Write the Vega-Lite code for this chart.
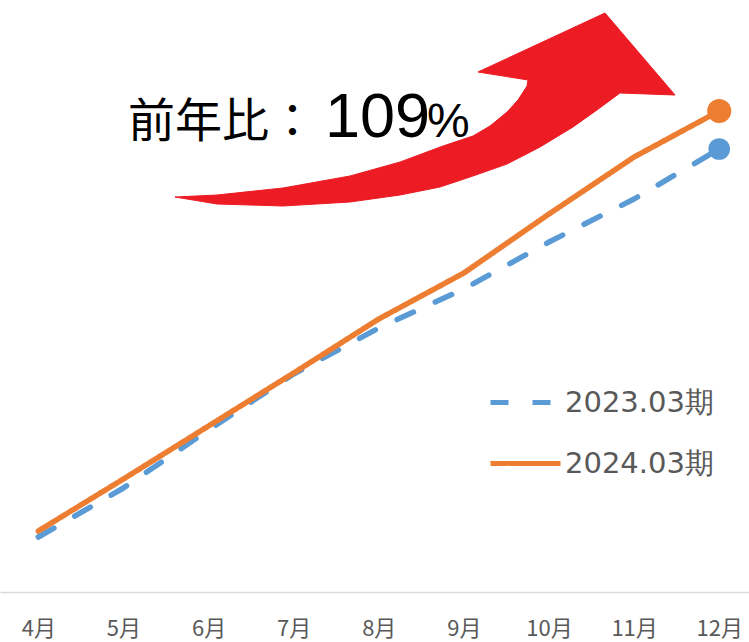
{
  "$schema": "https://vega.github.io/schema/vega-lite/v6.json",
  "width": 749,
  "height": 592,
  "autosize": {"type": "none"},
  "padding": {"left": 0, "top": 0, "right": 0, "bottom": 50},
  "background": "white",
  "config": {"view": {"stroke": null}, "font": "Noto Sans CJK JP"},
  "datasets": {
    "sales": [
      {"month": 4, "period": "2023.03期", "value": 55},
      {"month": 5, "period": "2023.03期", "value": 104},
      {"month": 6, "period": "2023.03期", "value": 162},
      {"month": 7, "period": "2023.03期", "value": 218},
      {"month": 8, "period": "2023.03期", "value": 264},
      {"month": 9, "period": "2023.03期", "value": 303},
      {"month": 10, "period": "2023.03期", "value": 350},
      {"month": 11, "period": "2023.03期", "value": 393},
      {"month": 12, "period": "2023.03期", "value": 443},
      {"month": 4, "period": "2024.03期", "value": 61},
      {"month": 5, "period": "2024.03期", "value": 113},
      {"month": 6, "period": "2024.03期", "value": 166},
      {"month": 7, "period": "2024.03期", "value": 219},
      {"month": 8, "period": "2024.03期", "value": 273},
      {"month": 9, "period": "2024.03期", "value": 319},
      {"month": 10, "period": "2024.03期", "value": 378},
      {"month": 11, "period": "2024.03期", "value": 435},
      {"month": 12, "period": "2024.03期", "value": 481}
    ],
    "arrow": [
      {"i": 0, "m": 5.606, "v": 395},
      {"i": 1, "m": 6.100, "v": 397},
      {"i": 2, "m": 6.875, "v": 404},
      {"i": 3, "m": 7.662, "v": 416},
      {"i": 4, "m": 8.250, "v": 430},
      {"i": 5, "m": 8.755, "v": 446},
      {"i": 6, "m": 9.107, "v": 456},
      {"i": 7, "m": 9.307, "v": 466},
      {"i": 8, "m": 9.507, "v": 480},
      {"i": 9, "m": 9.636, "v": 492},
      {"i": 10, "m": 9.742, "v": 506},
      {"i": 11, "m": 9.753, "v": 512},
      {"i": 12, "m": 9.166, "v": 520},
      {"i": 13, "m": 10.658, "v": 579},
      {"i": 14, "m": 11.481, "v": 497},
      {"i": 15, "m": 10.834, "v": 499},
      {"i": 16, "m": 10.564, "v": 482},
      {"i": 17, "m": 10.282, "v": 465},
      {"i": 18, "m": 9.895, "v": 445},
      {"i": 19, "m": 9.507, "v": 428},
      {"i": 20, "m": 9.107, "v": 416},
      {"i": 21, "m": 8.720, "v": 405},
      {"i": 22, "m": 8.250, "v": 397},
      {"i": 23, "m": 7.662, "v": 390},
      {"i": 24, "m": 6.875, "v": 386},
      {"i": 25, "m": 6.100, "v": 388},
      {"i": 26, "m": 5.606, "v": 395}
    ],
    "note": [
      {"part": "label", "text": "前年比：", "m": 5.054, "v": 455},
      {"part": "num", "text": "109", "m": 7.368, "v": 455},
      {"part": "pct", "text": "%", "m": 8.567, "v": 455}
    ]
  },
  "layer": [
    {
      "data": {"name": "arrow"},
      "mark": {"type": "line", "fill": "#ED1C24", "stroke": "#ED1C24", "strokeWidth": 1, "strokeJoin": "round"},
      "encoding": {
        "x": {"field": "m", "type": "quantitative", "scale": {"domain": [3.55, 12.35], "nice": false, "zero": false},
          "axis": {"title": null, "values": [4, 5, 6, 7, 8, 9, 10, 11, 12], "labelExpr": "datum.value + '月'", "ticks": false, "grid": false, "domainColor": "#d9d9d9", "domainWidth": 1.5, "labelFontSize": 22, "labelColor": "#595959", "labelPadding": 26, "labelFont": "Noto Sans CJK JP", "labelFlush": false, "labelOverlap": false}},
        "y": {"field": "v", "type": "quantitative", "scale": {"domain": [0, 592], "nice": false}, "axis": null},
        "order": {"field": "i", "type": "quantitative"}
      }
    },
    {
      "data": {"name": "sales"},
      "mark": {"type": "line", "strokeWidth": 5.5, "strokeCap": "round", "strokeJoin": "round"},
      "encoding": {
        "x": {"field": "month", "type": "quantitative"},
        "y": {"field": "value", "type": "quantitative"},
        "color": {"field": "period", "type": "nominal",
          "scale": {"domain": ["2023.03期", "2024.03期"], "range": ["#5B9BD5", "#ED7D31"]},
          "legend": {"title": null, "orient": "none", "legendX": 488, "legendY": 365, "padding": 0, "symbolType": "stroke", "symbolSize": 4900, "symbolStrokeWidth": 5, "labelFontSize": 29, "labelColor": "#595959", "labelFont": "DejaVu Sans", "labelOffset": 2, "rowPadding": 8}},
        "strokeDash": {"field": "period", "type": "nominal",
          "scale": {"domain": ["2023.03期", "2024.03期"], "range": [[18, 24], [1, 0]]},
          "legend": {"title": null, "orient": "none", "legendX": 488, "legendY": 365, "padding": 0, "symbolType": "stroke", "symbolSize": 4900, "symbolStrokeWidth": 5, "labelFontSize": 29, "labelColor": "#595959", "labelFont": "DejaVu Sans", "labelOffset": 2, "rowPadding": 8}}
      }
    },
    {
      "data": {"name": "sales"},
      "transform": [{"filter": "datum.month == 12"}],
      "mark": {"type": "circle", "opacity": 1},
      "encoding": {
        "x": {"field": "month", "type": "quantitative"},
        "y": {"field": "value", "type": "quantitative"},
        "color": {"condition": {"test": "datum.period == '2024.03期'", "value": "#ED7D31"}, "value": "#5B9BD5"},
        "size": {"condition": {"test": "datum.period == '2024.03期'", "value": 580}, "value": 470}
      }
    },
    {
      "data": {"name": "note"},
      "transform": [{"filter": "datum.part == 'label'"}],
      "mark": {"type": "text", "align": "left", "baseline": "alphabetic", "fontSize": 47, "font": "Noto Sans CJK JP", "color": "#000000"},
      "encoding": {
        "x": {"field": "m", "type": "quantitative"},
        "y": {"field": "v", "type": "quantitative"},
        "text": {"field": "text"}
      }
    },
    {
      "data": {"name": "note"},
      "transform": [{"filter": "datum.part == 'num'"}],
      "mark": {"type": "text", "align": "left", "baseline": "alphabetic", "fontSize": 63, "font": "Liberation Sans", "color": "#000000"},
      "encoding": {
        "x": {"field": "m", "type": "quantitative"},
        "y": {"field": "v", "type": "quantitative"},
        "text": {"field": "text"}
      }
    },
    {
      "data": {"name": "note"},
      "transform": [{"filter": "datum.part == 'pct'"}],
      "mark": {"type": "text", "align": "left", "baseline": "alphabetic", "fontSize": 48, "font": "Liberation Sans", "color": "#000000"},
      "encoding": {
        "x": {"field": "m", "type": "quantitative"},
        "y": {"field": "v", "type": "quantitative"},
        "text": {"field": "text"}
      }
    }
  ]
}
